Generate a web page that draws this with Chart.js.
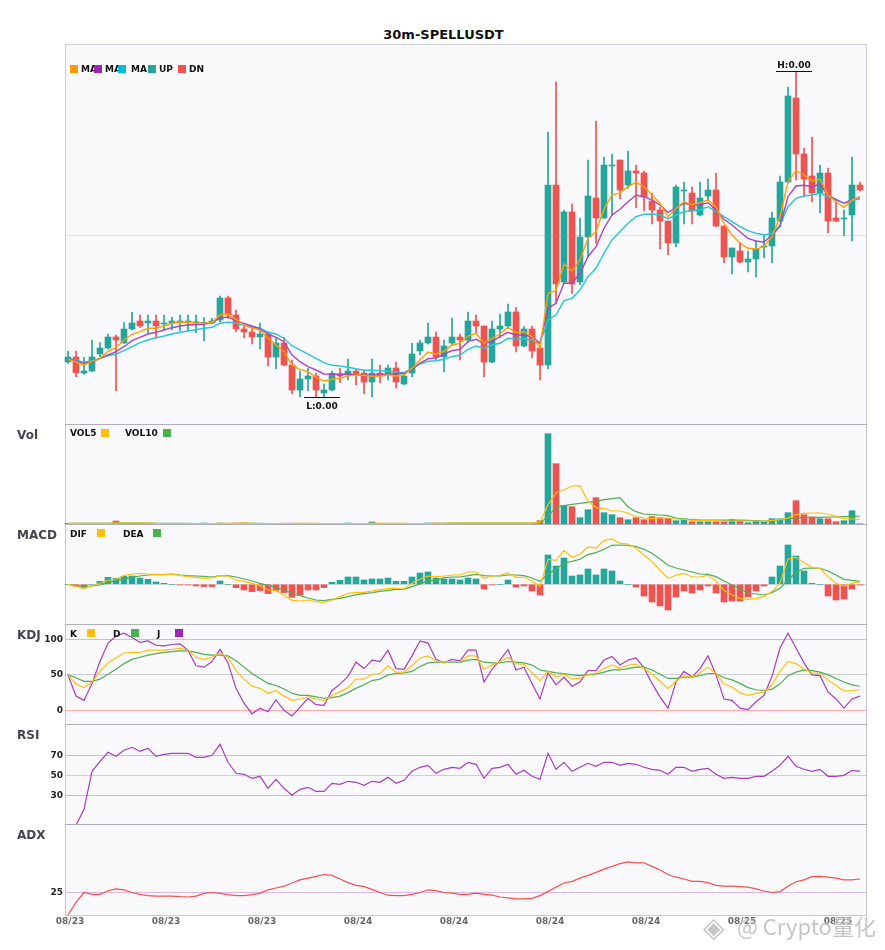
<!DOCTYPE html>
<html>
<head>
<meta charset="utf-8">
<title>30m-SPELLUSDT</title>
<script src="https://cdn.jsdelivr.net/npm/chart.js@4"></script>
<style>
  html, body { margin: 0; padding: 0; background: #fff; }
  #page { position: relative; width: 885px; height: 950px; overflow: hidden; font-family: "DejaVu Sans", sans-serif; }
  canvas { position: absolute; left: 0; }
  .title { position: absolute; left: 1px; width: 885px; top: 27px; text-align: center; font: bold 13px "DejaVu Sans"; color: #111; }
  .panel { position: absolute; left: 17px; font: bold 12px/14px "DejaVu Sans"; color: #44444f; }
  .leg { position: absolute; font: bold 9px/12px "DejaVu Sans"; color: #111; white-space: nowrap; }
  .sw { position: absolute; width: 8px; height: 8px; }
  .mark { position: absolute; top: 908px; font: 22px/34px "Noto Sans CJK SC"; color: rgba(150,150,155,.55); text-shadow: 0 0 2px #fff; white-space: nowrap; }
</style>
</head>
<body>
<div id="page">
  <div class="title">30m-SPELLUSDT</div>
  <canvas id="cMain"></canvas>
  <canvas id="cVol"></canvas>
  <canvas id="cMacd"></canvas>
  <canvas id="cKdj"></canvas>
  <canvas id="cRsi"></canvas>
  <canvas id="cAdx"></canvas>
  <div class="panel" style="top:428px">Vol</div>
  <div class="panel" style="top:528px">MACD</div>
  <div class="panel" style="top:628px">KDJ</div>
  <div class="panel" style="top:728px">RSI</div>
  <div class="panel" style="top:828px">ADX</div>
  <div class="mark" style="left:703px;font-size:28px">◈</div>
  <div class="mark" style="left:737px">@ Crypto量化</div>
</div>

<script>
// prices (the axis has no usable labels, so units are relative)
const opens = [
  62,67,51,53,70,76,87,81,95,103,
  101,103,100,101,102,102,101.3,101,101,104,
  126,109,95,92,87,90,67,81,59,34,
  45,48,31,34,50,49,53,51,42,51,
  49,56,40,51,73,81,87,67,81,87,
  84,103,98,62,95,98,112,78,95,76,
  59,239,142,212,142,187,226,206,258,264,
  239,253,251,223,214,203,181,233,231,209,
  228,234,198,167,173,162,165,177,178,203,
  242,326,270,248,231,251,206,205,209,239];
const closes = [
  67,51.3,53,67,76,87,84,95,101,98,
  103,98,101,103,103,103,102.3,101.7,103,126,
  109,95,92,87,90,67,81,59,34,45,
  48,34,34,50.7,48,53,50,42,51,48,
  56,42,48,70,81,87,67,78,87,84,
  103,98,62,95,98,112,78,95,73,59,
  239,140,212,140,187,228,206,259,259,234,
  253,251,227,214,203,181,237,234,213,226,
  234,198,167,176,162,165,175,178,206,242,
  328,270,245,231,251,203,203,206,239,234];
const highs = [
  73,73,66.7,84,81.3,90,89,101.3,111.7,109,
  109,109,109,106.7,109,109,109,106.3,105.7,128,
  128,114,100,97.3,101,92.3,85.7,86.7,64,53,
  55.7,50.7,40,53,55.7,65,54.7,54,65,59,
  59,62,50.7,80.7,84,101,92,84,106,90,
  112,109,98,103,110,120,116.7,97.3,98,79,
  292,342,214,220,206,264,303,267,270,264,
  273,259,253,231,217,203,239,242,237,242,
  245,251,198,176,181.7,173,183,189,212,248,
  337,352.3,276,287,259,256,223,214,267,242];
const lows = [
  60.7,47.3,49.7,52.3,67.3,75,33,80.7,94,96.7,
  90.7,85.7,94,94,93.3,93.3,91.3,83,100.7,102.3,
  105.7,92.3,86,80,75,58,55,58,30,27,
  33,27,26,33,41.3,44,39,30,27,41,
  44,36,39,47.3,69,80,64,52,79,64,
  82.3,90.7,47,61.3,86.7,95.7,72,77.3,66,44,
  55,120.7,140.7,130.7,139,167.3,180.7,205.7,209,225,
  235.7,216,213,200,175,169,177.3,200,200,208,
  224,197.3,161,150,161,152,147,166,161,202.3,
  240.7,244,227,222,211,191,202,188,183,233];

const ma5 = [
  64.7,62,59,62.7,65.7,72.7,76.3,84,89.7,92.3,
  95.7,95.7,98,100.7,101.7,101.7,100.7,100.7,101.7,109.3,
  109.7,104.7,99,95.7,94,85.7,79,72.3,59,54.7,
  52.3,46.7,43,44.7,45.7,48,49,48.7,47.7,48,
  49,48,49,55.7,64,72,70,72.7,79,80.7,
  88,90.7,80.7,85.7,90,96.7,91.3,92.3,87.3,76.3,
  130.7,133.3,160,153,164,185.7,192.3,215,229,231.3,
  237.3,241.7,237.3,229,220.7,207.3,215.7,222.3,219,221.3,
  224,217,200.7,189,180.7,175.7,175,177.3,187.3,207.3,
  242.3,253.3,249,243.3,244.7,229,222.3,216.7,224,227.3];
const ma10 = [
  65,63,60.7,62,65.7,69,72.3,77.3,83.3,86.7,
  90,91.7,94,96.3,98,99,99.3,99.7,101.3,106,
  107,103.3,100.7,98,95,90,86.7,82.3,69,62.3,
  57.3,54,50,49.7,49.7,49.7,49.3,49.3,49,49,
  50,50.3,50.7,54.7,60.7,65.3,66,70,73.3,74.7,
  82.3,84.7,80.7,82.3,87.3,91.7,89,89,87.3,80.7,
  115.7,120.7,140.7,140.7,150.7,167.3,177.3,195.7,209,214.7,
  222.3,228.7,227.3,224,219,211.7,216.3,220.7,219,219,
  221.3,214,204.7,199,192.3,185.7,183,181.7,189,197.3,
  227.3,238,238.7,237.3,240,229,224.7,220.7,224.7,226.7];
const ma20 = [
  64.7,64,61.7,63,65.7,68.3,70,73.3,77.3,81.3,
  84,86.3,88,90,91.7,93,94.3,95.7,96.7,100.7,
  101.7,100.7,99,97.3,96,91.7,90,85.7,78.3,74,
  70,65.7,61.3,58.7,58,56.7,55.3,53.7,53.7,53.3,
  52.7,52,51.3,55.7,60,62.7,63.3,64.7,67.3,69,
  74.7,78,75.7,79,80.7,85.7,85,85,84,80.7,
  104,109,123.3,125.7,134,147.3,155.7,170.7,184,192.3,
  200.7,207.3,209.7,210,209,205.3,209,212.3,213.3,214,
  217.3,212.3,207.3,202.3,197.3,193.3,190.7,189,190.7,199,
  217.3,225.7,228,229,230.7,227.3,224,220.7,224,224.7];

const vol = [
  .5,.8,.6,.5,.5,.6,3,.6,.5,.5,
  .4,.4,.3,.3,.3,.3,.3,1,.3,1,
  .3,1,1,.3,.3,.3,.3,.8,.8,.8,
  .6,.5,.3,.3,.3,1,.3,.3,2,.5,
  .3,.3,.3,.3,.3,1,1,.5,.5,.6,
  .6,.5,.5,.5,.5,.5,.6,.6,.7,3.3,
  90.3,60.3,18.3,17.3,6.3,14.3,26.3,11.3,9.3,6.3,
  4.3,6.3,4.3,7.3,6.3,5.7,3.3,5.3,2.3,2.3,
  2.3,2.3,2.3,4.3,3,1.3,3.3,2.3,5.3,5.3,
  11.3,23.3,9.3,7,5.3,5.3,2.3,3.3,13.3,.3];
const vol5 = [
  .6,.7,.7,.7,.7,.6,.9,1,1,1,
  .9,.6,.5,.4,.4,.4,.4,.5,.5,.6,
  .6,.7,.8,.6,.5,.4,.3,.4,.5,.6,
  .7,.6,.5,.4,.4,.4,.4,.4,.7,.8,
  .7,.7,.6,.5,.4,.5,.6,.6,.8,.8,
  .8,.8,.8,.8,.8,.8,.8,.8,.9,1.7,
  19.3,31,34.3,38,38.3,22.7,16.3,15.3,13,13,
  11,7.3,6,5.3,6,6,5,4.7,3.7,3.3,
  3.3,3.3,2.7,3,3,3,3,2.7,3.7,4.3,
  6,9.3,10.7,11,11,10,7.7,5.3,5,4.7];
const vol10 = [
  .6,.6,.7,.7,.7,.7,.8,.8,.8,.8,
  .8,.7,.7,.7,.7,.6,.5,.5,.5,.5,
  .5,.5,.6,.6,.6,.5,.5,.5,.5,.5,
  .5,.5,.5,.5,.5,.5,.5,.5,.5,.5,
  .5,.5,.5,.5,.5,.5,.6,.7,.8,.9,
  .9,.9,.9,.9,.9,.9,.9,.9,.9,1,
  7.7,16.7,18.3,19.7,20.7,21.7,22.7,24.3,25.3,26.3,
  17,12.3,10,9.3,9,8.3,6,5,4.3,4,
  4,4,3.9,3.9,3.8,3.7,3.3,3,3.3,4.3,
  5.3,6,6.3,6.7,6.7,7,7,7.3,7.7,8];

const macdHist = [
  0,-2.3,-3.7,0,3,7,6,8,8.3,6.3,
  5,2.3,1,0,-.7,-.7,-1.7,-2.3,-2.3,3.3,
  0,-3.3,-5.7,-7.3,-6.3,-9.3,-6.3,-8.3,-13,-10.7,
  -5.7,-5.7,-3.3,2,4,7.3,7.3,4.3,5.3,5.3,
  6.3,3,3,7.3,11.3,12.3,6.3,5.3,5.3,4.3,
  6.3,5.3,-4.7,-.7,0,4.3,-2.7,-1.7,-6.7,-10.7,
  29.3,18.3,26.3,8.3,9.3,15.3,9.3,15.3,13.3,3.3,
  0,-2.7,-11.7,-17.7,-21.7,-25.7,-12.7,-6.7,-8.7,-5.7,
  -1.7,-8.7,-17.7,-16.7,-16.7,-12.7,-6.7,-1.7,7.3,18.3,
  39.3,28.3,13.3,1,0,-11.7,-15.7,-14.7,-4.7,-.7];
const dif = [
  0,-2,-4,-1.3,1,4,5.3,8.7,10.3,11,
  10.3,10,10,10,9,7.7,7,6,6.3,8.7,
  8.3,4.3,3,1,-1.3,-5.7,-6.3,-11.3,-16,-16.7,
  -15.7,-17.3,-18,-15.7,-12.3,-9,-8,-8,-6.7,-5.3,
  -4,-4,-4.7,1,5,8.3,7.7,8.3,9.3,9.3,
  12.3,12.3,6,8.3,9,11.3,7,7,3.3,-2,
  25,24,34,27,30,37.3,36.3,43.7,45.3,41,
  40.3,36,29.3,22.7,14.3,6,9,11,7.3,7.3,
  9,3.3,-6,-10.7,-14,-15,-14.3,-12.3,-7.3,1,
  25.3,27,21.7,17,16,7.7,1,-1.7,1,2.7];
const dea = [
  0,-1.3,-2.3,-1.7,-.7,1.7,3.3,5.7,7,8.3,
  9.3,9.7,9.7,10.3,9.3,8.7,8.3,8,7.3,8.7,
  8.7,7.3,5.3,3.3,1,-1,-3.3,-5.7,-9,-11.3,
  -13.7,-15.7,-16.3,-15,-14,-12.3,-10.3,-9.3,-8.3,-7,
  -6,-5,-5,-2.3,.3,3.7,4,6.7,7.3,7.3,
  8.7,10,8.7,8.3,8.3,9.3,9.3,8.7,6.3,3,
  10,15.3,21.3,23,25,29.7,31.7,35,39,39.3,
  39,37.7,35,31,25.3,19,16.3,14.3,12.3,10.3,
  10,7.7,3.3,-.7,-4.7,-8.7,-9.7,-10.7,-8.3,-4,
  4.3,11.7,16,16.3,16,13.3,9.3,5,4,3];

const kVals = [
  50,37,32,40,55,67,74,81,82,82,
  85,85,85,86,88,85,75,72,75,81,
  75,56,44,34,31,24,28,20,14,16,
  19,16,14,21,26,32,44,44,51,52,
  63,54,54,63,74,77,70,68,69,69,
  77,77,58,64,69,75,66,65,53,42,
  55,47,51,44,45,51,52,59,64,59,
  64,65,59,51,41,31,41,49,47,53,
  61,52,37,33,25,21,24,26,36,55,
  69,66,58,53,52,43,35,27,28,29];
const dVals = [
  50,46,41,41,44,51,58,66,72,75,
  78,80,82,83,84,84,82,79,78,78,
  77,70,61,52,45,38,35,30,24,21,
  21,19,17,18,20,25,31,36,42,44,
  50,52,53,55,62,67,68,68,68,68,
  71,72,68,67,67,69,68,67,64,57,
  55,53,52,50,49,50,51,54,57,57,
  59,61,61,57,51,45,45,47,47,49,
  52,52,46,43,38,32,29,28,30,37,
  49,54,57,56,54,50,45,40,36,34];
const jVals = [
  50,20,14,38,69,95,105,109,103,96,
  98,92,91,93,94,85,63,61,69,86,
  67,31,10,-5,3,-2,15,0,-8,4,
  17,8,7,28,37,48,68,59,71,69,
  85,59,58,77,98,95,72,67,72,70,
  85,85,40,58,71,86,57,61,38,16,
  53,36,47,34,40,56,56,71,76,64,
  71,74,60,38,19,3,40,55,47,59,
  77,50,16,14,3,1,12,21,48,88,
  109,88,67,50,49,26,16,3,16,20];

const rsi = [
  null,0,16,54,64,73,69,75,78,74,
  77,69,71,72,72,72,68,68,70,81,
  63,52,51,47,49,37,46,37,30,36,
  38,34,34,42,41,44,43,40,44,43,
  48,42,45,54,58,60,52,56,58,57,
  63,61,47,57,58,61,51,55,49,46,
  72,56,63,54,58,62,59,63,63,60,
  62,61,58,56,55,51,58,58,54,56,
  57,51,47,48,47,47,49,49,54,60,
  69,59,56,54,56,49,49,50,55,54];
const adx = [
  0,14,25,23,23,27,29,28,25,23,
  21.5,21,21,21,20.4,20,21,24,25,24,
  22.6,21.5,21.5,22.6,24,28,30,32,35.6,39,
  41,43,45,44,40,36,33,31.5,28.5,25,
  22,21.5,21.5,23,25,28,27,25,24.4,23,
  23,24.4,23,22,20,19,18,18,18.5,21.5,
  26,31,35.6,37.4,41,44,47.4,51,54,57,
  59,58,58,54,50,45,42,40,37.4,37.4,
  36,33,32,32,31.5,31,29,26.7,25,26,
  32,37,39,42.6,43,42,41,39,39,40];

const xTickIdx = [0, 12, 24, 36, 48, 60, 72, 84, 96];
const xTickLabels = ['08/23','08/23','08/23','08/24','08/24','08/24','08/24','08/25','08/25'];

const UP = '#26a69a', DN = '#ef5350';
const YELLOW = '#ffc107', GREEN = '#4caf50', PURPLE = '#9c27b0';
const LINE_PURPLE = '#a63ebf';

const idx = opens.map((_, i) => i);
const pts = arr => arr.map((y, i) => ({ x: i, y: y }));
const candleCol = idx.map(i => closes[i] >= opens[i] ? UP : DN);

function lineDs(arr, color, width) {
  return { type: 'line', data: pts(arr), borderColor: color, borderWidth: width || 1.2, pointRadius: 0, tension: 0, order: 0, spanGaps: false };
}
function barDs(data, colors, thick, order) {
  return { type: 'bar', data: data, backgroundColor: colors, borderWidth: 0, barThickness: thick, grouped: false, order: order, clip: false };
}

// panel background + frame lines
const framePlugin = {
  id: 'frame',
  beforeDraw(chart, args, o) {
    const a = chart.chartArea, c = chart.ctx;
    c.save();
    c.fillStyle = '#f9f9fc';
    c.fillRect(a.left, a.top, a.right - a.left, a.bottom - a.top);
    c.fillStyle = o.top;
    c.fillRect(a.left - 1, a.top - 1, a.right - a.left + 2, 1);
    c.fillStyle = o.side;
    c.fillRect(a.left - 1, a.top, 1, a.bottom - a.top);
    c.fillRect(a.right, a.top, 1, a.bottom - a.top);
    if (o.bottom) {
      c.fillStyle = o.bottom;
      c.fillRect(a.left - 1, a.bottom, a.right - a.left + 2, 1);
    }
    c.restore();
  }
};

// H:/L: labels at the extreme wicks
const extremePlugin = {
  id: 'extreme',
  afterDatasetsDraw(chart) {
    const c = chart.ctx, xs = chart.scales.x, ys = chart.scales.y;
    const hi = highs.indexOf(Math.max(...highs)), lo = lows.indexOf(Math.min(...lows));
    c.save();
    c.font = 'bold 9px "DejaVu Sans"';
    c.textAlign = 'center';
    c.textBaseline = 'middle';
    c.fillStyle = '#111';
    [[hi, highs[hi], 'H:0.00', -6.5], [lo, lows[lo], 'L:0.00', 9]].forEach(r => {
      const px = xs.getPixelForValue(r[0]) - 2, py = Math.round(ys.getPixelForValue(r[1]));
      c.fillRect(px - 18, py - 1, 36, 1);
      c.fillText(r[2], px, py + r[3]);
    });
    c.restore();
  }
};

function makePanel(id, top, height, padTop, datasets, yMin, yMax, yTicks, yColors, showLabels, frame, withX, extra) {
  const cv = document.getElementById(id);
  cv.style.top = top + 'px';
  cv.width = 885;
  cv.height = height;
  cv.style.width = '885px';
  cv.style.height = height + 'px';
  return new Chart(cv, {
    data: { datasets: datasets },
    plugins: [framePlugin].concat(extra || []),
    options: {
      responsive: false,
      animation: false,
      devicePixelRatio: 1,
      layout: { autoPadding: false, padding: { left: 0, right: 19, top: padTop, bottom: 0 } },
      plugins: { legend: { display: false }, tooltip: { enabled: false }, title: { display: false }, frame: frame },
      scales: {
        x: {
          type: 'linear',
          offset: false,
          min: -0.25,
          max: 99.75,
          display: withX,
          grid: { display: false, drawTicks: false, tickLength: 0 },
          border: { display: false },
          afterFit: s => { s.height = withX ? 35 : 0; s.paddingLeft = 0; s.paddingRight = 0; },
          afterBuildTicks: s => { s.ticks = xTickIdx.map(v => ({ value: v })); },
          ticks: {
            autoSkip: false,
            maxRotation: 0,
            padding: 1,
            labelOffset: 2,
            color: '#666',
            font: { family: 'DejaVu Sans', size: 9, weight: 'bold' },
            callback: (v, i) => xTickLabels[i]
          }
        },
        y: {
          type: 'linear',
          min: yMin,
          max: yMax,
          afterFit: s => { s.width = 66; s.paddingTop = 0; s.paddingBottom = 0; },
          afterBuildTicks: s => { s.ticks = yTicks.map(v => ({ value: v })); },
          border: { display: false },
          grid: { drawTicks: false, color: c => yColors[yTicks.indexOf(c.tick.value)] || 'rgba(0,0,0,0)' },
          ticks: {
            autoSkip: false,
            padding: 3,
            color: '#222',
            font: { family: 'DejaVu Sans', size: 9, weight: 'bold' },
            callback: v => showLabels ? String(v) : ''
          }
        }
      }
    }
  });
}

const frameTop = { top: '#aeaeb4', side: '#c4c4cc' };

// main candles
makePanel('cMain', 0, 424, 45, [
  lineDs(ma5, '#ffa000', 1.4),
  lineDs(ma10, '#ab47bc', 1.4),
  lineDs(ma20, '#26c6da', 1.4),
  barDs(idx.map(i => ({ x: i, y: [Math.min(opens[i], closes[i]), Math.max(opens[i], closes[i])] })), candleCol, 6, 2),
  barDs(idx.map(i => ({ x: i, y: [lows[i], highs[i]] })), candleCol, 1, 3)
], 0, 379, [189], ['#dfdfe6'], false, { top: '#cfcfd9', side: '#cfcfd9' }, false, [extremePlugin]);

// volume
makePanel('cVol', 424, 100, 1, [
  lineDs(vol5, YELLOW),
  lineDs(vol10, GREEN),
  barDs(pts(vol), candleCol, 6, 2)
], 0, 99, [], [], false, frameTop, false);

// macd
makePanel('cMacd', 524, 100, 1, [
  lineDs(dif, YELLOW),
  lineDs(dea, GREEN),
  barDs(pts(macdHist), macdHist.map(v => v >= 0 ? UP : DN), 6, 2)
], -39.7, 59.3, [0], ['#d9d9dd'], false, frameTop, false);

// kdj
makePanel('cKdj', 624, 100, 1, [
  lineDs(kVals, YELLOW),
  lineDs(dVals, GREEN),
  lineDs(jVals, LINE_PURPLE)
], -19.4, 120.6, [100, 50, 0], ['#96dcd4', '#cfcfd2', '#ffaaaa'], true, frameTop, false);

// rsi
makePanel('cRsi', 724, 100, 1, [lineDs(rsi, LINE_PURPLE)], 1.3, 100.3, [70, 50, 30], ['#96dcd4', '#cfcfd2', '#ffaaaa'], true, frameTop, false);

// adx
makePanel('cAdx', 824, 126, 1, [lineDs(adx, '#f4514e')], 0, 100, [25], ['#dcb8e4'], true,
  { top: '#aeaeb4', side: '#c4c4cc', bottom: '#cdc4dc' }, true);

// legends, html on top of the canvases
const page = document.getElementById('page');
function legText(txt, x, y) {
  const d = document.createElement('div');
  d.className = 'leg';
  d.textContent = txt;
  d.style.left = x + 'px';
  d.style.top = (y - 6) + 'px';
  page.appendChild(d);
}
function legSwatch(col, x, y) {
  const d = document.createElement('div');
  d.className = 'sw';
  d.style.background = col;
  d.style.left = x + 'px';
  d.style.top = (y - 4) + 'px';
  page.appendChild(d);
}
[['MA', 81], ['MA', 105], ['MA', 131], ['UP', 159], ['DN', 189]].forEach(r => legText(r[0], r[1], 69));
[['#ff9800', 70], [PURPLE, 94], ['#00bcd4', 118], [UP, 148], [DN, 178]].forEach(r => legSwatch(r[0], r[1], 69));
legText('VOL5', 70, 433); legSwatch(YELLOW, 101, 433);
legText('VOL10', 125, 433); legSwatch(GREEN, 163, 433);
legText('DIF', 70, 534); legSwatch(YELLOW, 97, 533);
legText('DEA', 123, 534); legSwatch(GREEN, 153, 533);
legText('K', 70, 634); legSwatch(YELLOW, 87, 633);
legText('D', 113, 634); legSwatch(GREEN, 131, 633);
legText('J', 157, 634); legSwatch(PURPLE, 175, 633);
</script>
</body>
</html>
